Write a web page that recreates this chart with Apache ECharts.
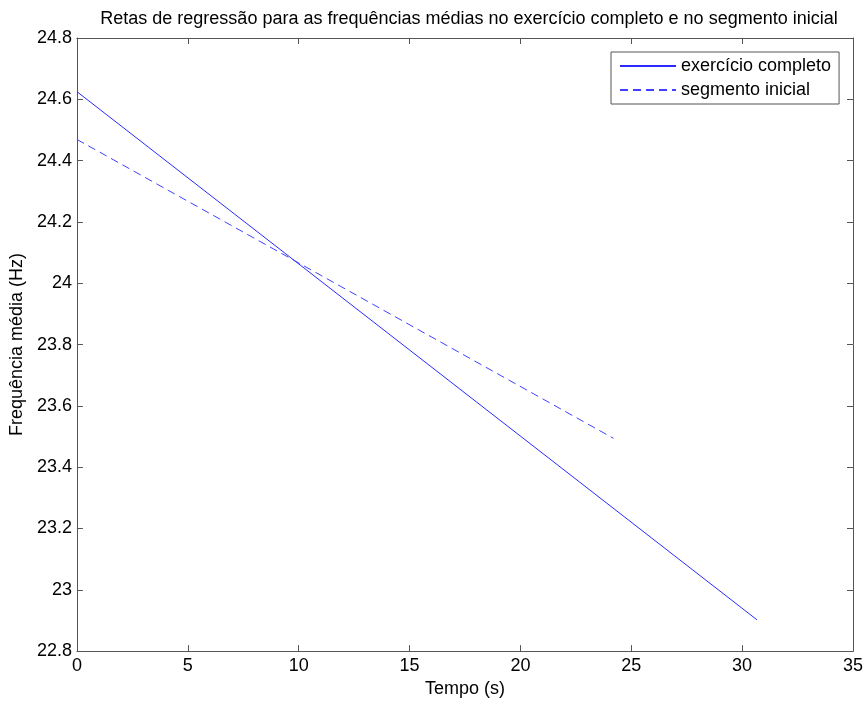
<!DOCTYPE html>
<html>
<head>
<meta charset="utf-8">
<script src="https://cdn.jsdelivr.net/npm/echarts@6/dist/echarts.min.js"></script>
<style>
  html, body { margin: 0; padding: 0; background: #fff; }
  #chart { width: 866px; height: 703px; }
</style>
</head>
<body>
<div id="chart"></div>
<script>
// regression lines (endpoints)
const tempoCompleto = [0, 30.67]
const freqCompleto = [24.625, 22.902]
const tempoInicial = [0, 24.2]
const freqInicial = [24.469, 23.494]

const xTicks = [0, 5, 10, 15, 20, 25, 30, 35]
const yTicks = [22.8, 23, 23.2, 23.4, 23.6, 23.8, 24, 24.2, 24.4, 24.6, 24.8]

const font = 'Liberation Sans, Arial, sans-serif'
const axisColor = '#555'

function zip(xs, ys) {
  return xs.map((x, i) => [x, ys[i]])
}

const chart = echarts.init(document.getElementById('chart'))

const baseX = {
  type: 'value',
  min: xTicks[0],
  max: xTicks[xTicks.length - 1],
  interval: 5,
  splitLine: { show: false },
  axisLine: { show: true, onZero: false, lineStyle: { color: axisColor, width: 1 } },
  axisTick: { show: true, inside: true, length: 6, lineStyle: { color: axisColor } }
}
const baseY = {
  type: 'value',
  min: yTicks[0],
  max: yTicks[yTicks.length - 1],
  interval: 0.2,
  splitLine: { show: false },
  axisLine: { show: true, onZero: false, lineStyle: { color: axisColor, width: 1 } },
  axisTick: { show: true, inside: true, length: 6, lineStyle: { color: axisColor } }
}

chart.setOption({
  animation: false,
  backgroundColor: '#fff',
  title: {
    text: 'Retas de regressão para as frequências médias no exercício completo e no segmento inicial',
    left: 464,
    textAlign: 'center',
    top: 5,
    textStyle: { fontFamily: font, fontSize: 18, fontWeight: 'normal', color: '#000' }
  },
  legend: {
    orient: 'vertical',
    left: 611,
    top: 52,
    padding: [5, 8, 5, 8],
    itemWidth: 56,
    itemHeight: 18,
    itemGap: 6,
    borderColor: axisColor,
    borderWidth: 1,
    backgroundColor: '#fff',
    itemStyle: { opacity: 0 },
    textStyle: { fontFamily: font, fontSize: 18, color: '#000' },
    data: ['exercício completo', 'segmento inicial']
  },
  grid: {
    left: 75,
    right: 12,
    top: 38,
    bottom: 50,
    containLabel: false
  },
  xAxis: [
    Object.assign({}, baseX, {
      position: 'bottom',
      name: 'Tempo (s)',
      nameLocation: 'middle',
      nameGap: 28,
      nameTextStyle: { fontFamily: font, fontSize: 18, color: '#000', verticalAlign: 'top' },
      axisLabel: { fontFamily: font, fontSize: 18, color: '#000', margin: 6 }
    }),
    Object.assign({}, baseX, { position: 'top', axisLabel: { show: false } })
  ],
  yAxis: [
    Object.assign({}, baseY, {
      position: 'left',
      name: 'Frequência média (Hz)',
      nameLocation: 'middle',
      nameGap: 48,
      nameTextStyle: { fontFamily: font, fontSize: 18, color: '#000' },
      axisLabel: { fontFamily: font, fontSize: 18, color: '#000', margin: 5, formatter: v => String(+v.toFixed(1)) }
    }),
    Object.assign({}, baseY, { position: 'right', axisLabel: { show: false } })
  ],
  series: [
    {
      name: 'exercício completo',
      type: 'line',
      symbol: 'none',
      color: '#2a2aff',
      lineStyle: { width: 1, type: 'solid' },
      data: zip(tempoCompleto, freqCompleto)
    },
    {
      name: 'segmento inicial',
      type: 'line',
      symbol: 'none',
      color: '#4040ff',
      lineStyle: { width: 1, type: [8, 5] },
      data: zip(tempoInicial, freqInicial)
    }
  ]
})
</script>
</body>
</html>
